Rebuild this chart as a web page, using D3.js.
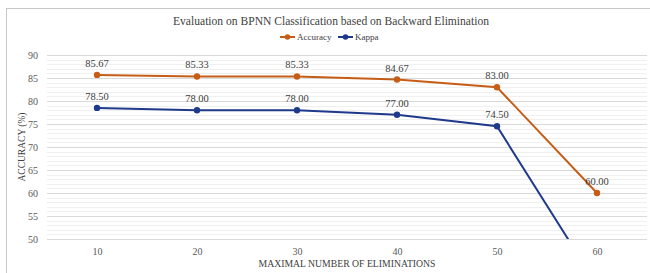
<!DOCTYPE html>
<html>
<head>
<meta charset="utf-8">
<script src="https://cdn.jsdelivr.net/npm/d3@7"></script>
<style>
  body { margin: 0; background: #fff; }
  svg text { font-family: "Liberation Serif", "DejaVu Serif", serif !important; }
</style>
</head>
<body>
<script>
const w = 650;
const h = 273;
const margin = {top: 55, right: 3, bottom: 34, left: 47};
const innerWidth = w - margin.left - margin.right;
const innerHeight = h - margin.top - margin.bottom;

const categories = ["10", "20", "30", "40", "50", "60"];
const accuracy = [85.67, 85.33, 85.33, 84.67, 83.00, 60.00];
const kappa = [78.50, 78.00, 78.00, 77.00, 74.50, 40.00];
const yTicks = [50, 55, 60, 65, 70, 75, 80, 85, 90];

const series = [
  {name: "Accuracy", values: accuracy, color: "#c65d17"},
  {name: "Kappa", values: kappa, color: "#1f3a8a"}
];

const xScale = d3.scalePoint()
    .domain(categories)
    .range([0, innerWidth])
    .padding(0.5);

const yScale = d3.scaleLinear()
    .domain([50, 90])
    .range([innerHeight, 0]);

const svg = d3.select("body")
  .append("svg")
    .attr("width", w)
    .attr("height", h);

// chart frame
svg.append("rect")
    .attr("x", 6.5)
    .attr("y", 8.5)
    .attr("width", w - 6)
    .attr("height", h)
    .attr("fill", "#fff")
    .attr("stroke", "#c8c8c8");

svg.append("defs").append("clipPath")
    .attr("id", "plotclip")
  .append("rect")
    .attr("x", -5)
    .attr("y", -5)
    .attr("width", innerWidth + 10)
    .attr("height", innerHeight + 5);

const g = svg.append("g")
    .attr("transform", `translate(${margin.left}, ${margin.top})`);

// minor gridlines
g.append("g")
  .selectAll("line")
  .data(d3.range(50, 91, 1).filter(v => v % 5 !== 0))
  .join("line")
    .attr("x1", 0)
    .attr("x2", innerWidth)
    .attr("y1", d => Math.round(yScale(d)) + 0.5)
    .attr("y2", d => Math.round(yScale(d)) + 0.5)
    .attr("stroke", "#f0f0f0");

// y axis with major gridlines
const yAxis = d3.axisLeft(yScale)
    .tickValues(yTicks)
    .tickSize(-innerWidth)
    .tickPadding(9);

g.append("g")
    .attr("class", "yAxis")
    .call(yAxis)
    .call(s => s.select(".domain").remove())
    .call(s => s.selectAll(".tick line").attr("stroke", "#d9d9d9"))
    .call(s => s.selectAll(".tick text")
        .attr("fill", "#595959")
        .attr("font-size", 10));

// x axis
const xAxis = d3.axisBottom(xScale)
    .tickSize(0)
    .tickPadding(9);

g.append("g")
    .attr("class", "xAxis")
    .attr("transform", `translate(0, ${innerHeight})`)
    .call(xAxis)
    .call(s => s.select(".domain").remove())
    .call(s => s.selectAll(".tick text")
        .attr("fill", "#595959")
        .attr("font-size", 10));

// lines
const line = d3.line()
    .x((d, i) => xScale(categories[i]))
    .y(d => yScale(d));

const plot = g.append("g").attr("clip-path", "url(#plotclip)");
const labels = g.append("g");

series.forEach(s => {
  plot.append("path")
      .datum(s.values)
      .attr("fill", "none")
      .attr("stroke", s.color)
      .attr("stroke-width", 2)
      .attr("d", line);

  const pts = s.values.map((v, i) => ({c: categories[i], v: v})).filter(d => d.v >= 50);

  plot.selectAll(null)
    .data(pts)
    .join("circle")
      .attr("cx", d => xScale(d.c))
      .attr("cy", d => yScale(d.v))
      .attr("r", 3.2)
      .attr("fill", s.color);

  labels.selectAll(null)
    .data(pts)
    .join("text")
      .attr("x", d => xScale(d.c))
      .attr("y", d => yScale(d.v) - 8)
      .attr("text-anchor", "middle")
      .attr("font-size", 10.5)
      .attr("fill", "#404040")
      .text(d => d.v.toFixed(2));
});

// title
svg.append("text")
    .attr("x", 331)
    .attr("y", 25)
    .attr("text-anchor", "middle")
    .attr("font-size", 12.5)
    .attr("textLength", 316)
    .attr("lengthAdjust", "spacingAndGlyphs")
    .attr("fill", "#404040")
    .text("Evaluation on BPNN Classification based on Backward Elimination");

// legend
const legendX = [280, 338];
series.forEach((s, i) => {
  const lg = svg.append("g").attr("transform", `translate(${legendX[i]}, 40)`);
  lg.append("line")
      .attr("x1", 0).attr("x2", 15)
      .attr("y1", -3).attr("y2", -3)
      .attr("stroke", s.color)
      .attr("stroke-width", 2);
  lg.append("circle")
      .attr("cx", 7.5).attr("cy", -3).attr("r", 2.8)
      .attr("fill", s.color);
  lg.append("text")
      .attr("x", 17)
      .attr("y", 0)
      .attr("font-size", 9)
      .attr("fill", "#404040")
      .text(s.name);
});

// axis titles
svg.append("text")
    .attr("transform", "translate(25, 147) rotate(-90)")
    .attr("text-anchor", "middle")
    .attr("font-size", 9.5)
    .attr("fill", "#404040")
    .text("ACCURACY (%)");

svg.append("text")
    .attr("x", 347)
    .attr("y", 267)
    .attr("text-anchor", "middle")
    .attr("font-size", 10)
    .attr("textLength", 177)
    .attr("lengthAdjust", "spacingAndGlyphs")
    .attr("fill", "#404040")
    .text("MAXIMAL NUMBER OF ELIMINATIONS");
</script>
</body>
</html>
